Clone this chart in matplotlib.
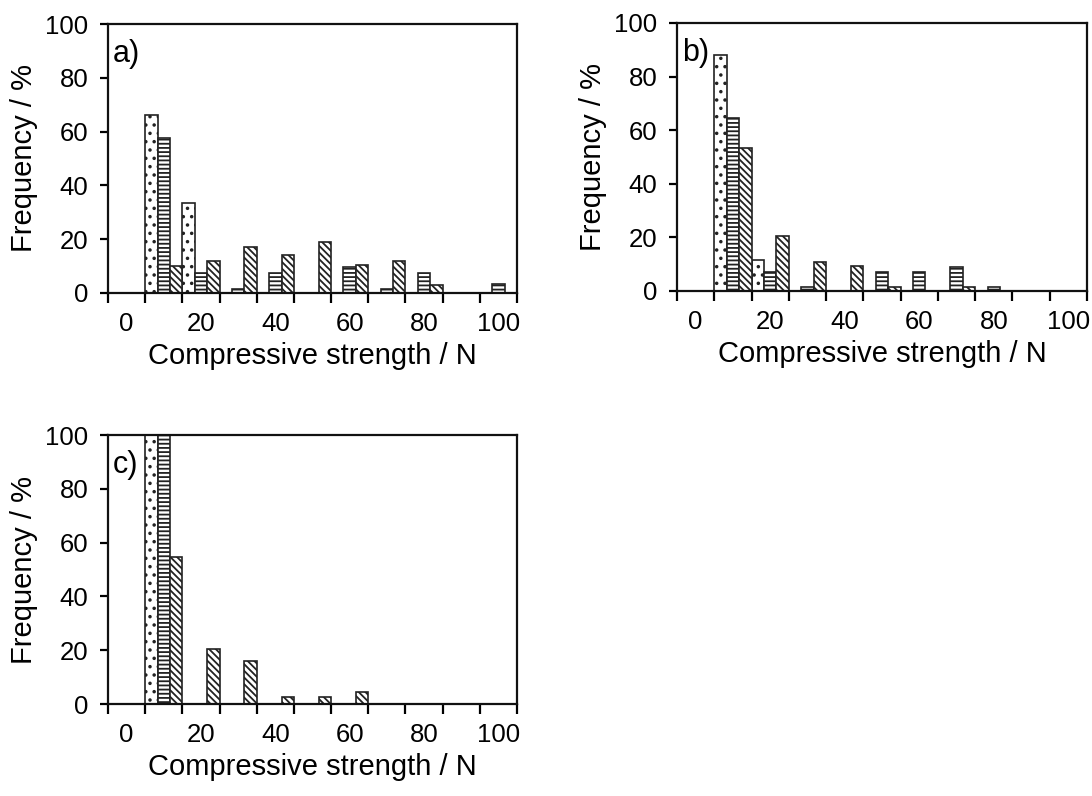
import matplotlib
matplotlib.use("Agg")
import matplotlib.pyplot as plt
import numpy as np

plt.rcParams['font.family'] = ['Liberation Sans', 'DejaVu Sans']
plt.rcParams['hatch.linewidth'] = 1.3

# Categories (compressive strength bins, N)
categories = [0, 10, 20, 30, 40, 50, 60, 70, 80, 90, 100]
tick_labels = ["0", "20", "40", "60", "80", "100"]

# Panel a)
a_dotted = [0, 66, 33.5, 0, 0, 0, 0, 0, 0, 0, 0]
a_horiz  = [0, 57.5, 7.6, 1.5, 7.6, 0, 9.8, 1.5, 7.6, 0, 3.3]
a_diag   = [0, 10.2, 12, 17, 14, 18.8, 10.3, 12, 3, 0, 0]

# Panel b)
b_dotted = [0, 88, 11.6, 0, 0, 0, 0, 0, 0, 0, 0]
b_horiz  = [0, 64.4, 7.1, 1.5, 0, 7.1, 7.1, 8.8, 1.5, 0, 0]
b_diag   = [0, 53.5, 20.6, 11, 9.2, 1.5, 0, 1.5, 0, 0, 0]

# Panel c)
c_dotted = [0, 100, 0, 0, 0, 0, 0, 0, 0, 0, 0]
c_horiz  = [0, 100, 0, 0, 0, 0, 0, 0, 0, 0, 0]
c_diag   = [0, 54.7, 20.5, 16, 2.5, 2.5, 4.6, 0, 0, 0, 0]

panels = [
    ("a)", a_dotted, a_horiz, a_diag, [108/1092, 1-293/796, 409/1092, 269/796]),
    ("b)", b_dotted, b_horiz, b_diag, [677/1092, 1-291/796, 410/1092, 268/796]),
    ("c)", c_dotted, c_horiz, c_diag, [108/1092, 1-704/796, 409/1092, 269/796]),
]

fig = plt.figure(figsize=(10.92, 7.96), dpi=100)
x = np.arange(len(categories))
w = 1/3
edge = '#222222'

def draw_bars(ax, xs, vals, hatch, hc=None):
    kw = dict(width=w, color='white', edgecolor=edge, linewidth=1.2, hatch=hatch, align='center')
    vals = np.array(vals, dtype=float)
    mask = vals > 0
    if hc is not None:
        try:
            ax.bar(xs[mask], vals[mask], hatchcolor=hc, **kw)
            return
        except Exception:
            pass
    ax.bar(xs[mask], vals[mask], **kw)

for label, dotted, horiz, diag, pos in panels:
    ax = fig.add_axes(pos)
    draw_bars(ax, x - w, dotted, '..', hc='#888888')
    draw_bars(ax, x, horiz, '----')
    draw_bars(ax, x + w, diag, '\\\\\\\\\\')
    ax.set_xlim(-0.5, len(categories) - 0.5)
    ax.set_ylim(0, 100)
    ax.set_yticks(np.arange(0, 101, 20))
    ax.tick_params(axis='y', direction='out', length=6, width=1.6, labelsize=18.5, pad=8)
    # category boundaries as major ticks
    ax.set_xticks(np.arange(-0.5, len(categories), 1.0))
    ax.set_xticklabels([])
    ax.tick_params(axis='x', which='major', direction='out', length=7, width=1.6)
    ax.set_xticks(x[::2], minor=True)
    ax.set_xticklabels(tick_labels, minor=True)
    ax.tick_params(axis='x', which='minor', length=0, labelsize=18.5, pad=14)
    for s in ax.spines.values():
        s.set_linewidth(1.6)
        s.set_color('#111111')
    ax.set_ylabel("Frequency / %", fontsize=21, labelpad=5)
    ax.set_xlabel("Compressive strength / N", fontsize=21, labelpad=4)
    ax.text(0.012, 0.945, label, transform=ax.transAxes, fontsize=22, va='top', ha='left')

fig.savefig("out.png", dpi=100)
